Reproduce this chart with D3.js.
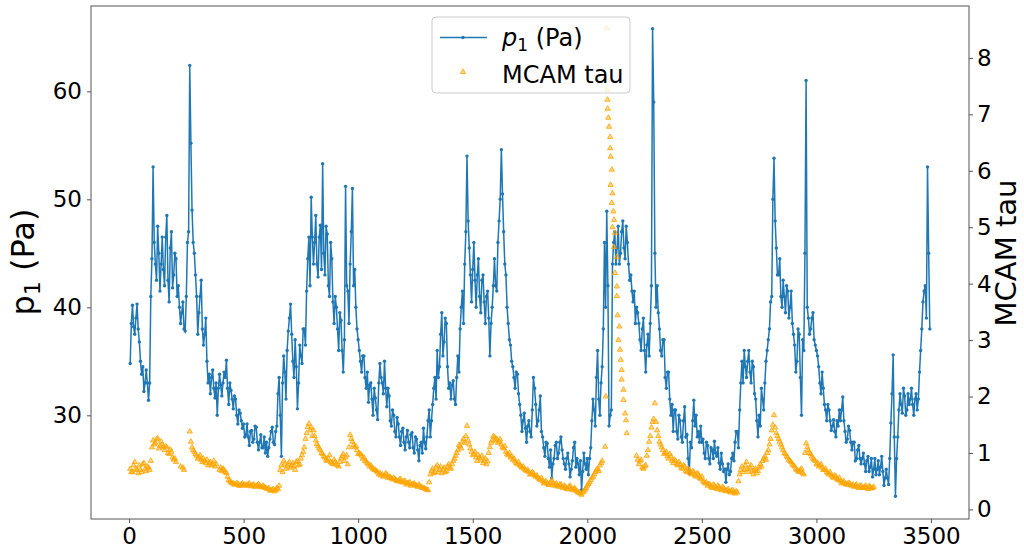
<!DOCTYPE html>
<html>
<head>
<meta charset="utf-8">
<script src="https://d3js.org/d3.v7.min.js"></script>
<style>
 body { margin: 0; background: #fff; }
 text { font-family: "DejaVu Sans", sans-serif; fill: #000; }
</style>
</head>
<body>
<script>
// p1 pressure (Pa): readings at sols 5, 15, 25 ... and the in-between readings at sols 10, 20, 30 ...
var p1FirstSol = 5, p1MidFirstSol = 10, solStep = 10;
var p1Values = [
 34.8, 40.2, 37.5, 40.3, 36.8, 33.8, 32.2, 34.2, 31.4, 41.0,
 53.0, 44.0, 47.5, 41.5, 46.5, 42.0, 48.5, 40.5, 47.0, 43.0,
 44.5, 42.0, 38.5, 40.5, 37.8, 46.0, 62.4, 49.0, 45.0, 41.0,
 39.5, 42.5, 36.5, 39.0, 33.0, 32.0, 34.2, 31.6, 30.0, 33.8,
 31.8, 34.0, 35.1, 31.0, 32.3, 30.6, 31.5, 29.2, 30.2, 28.8,
 28.0, 29.2, 27.2, 28.6, 27.8, 28.9, 26.8, 28.2, 27.0, 26.5,
 26.2, 27.8, 28.9, 27.3, 29.0, 33.5, 26.2, 35.5, 31.5, 37.8,
 40.3, 35.0, 37.0, 30.6, 36.5, 34.8, 38.0, 41.5, 46.5, 50.2,
 44.0, 48.5, 42.8, 47.6, 53.3, 43.0, 46.8, 41.0, 44.5, 38.5,
 40.0, 36.0, 38.8, 34.0, 51.2, 41.5, 44.0, 51.0, 43.5, 38.0,
 36.0, 34.0, 35.5, 32.5, 31.2, 33.0, 30.0, 31.6, 29.6, 34.8,
 33.0, 35.0, 30.8, 31.8, 29.0, 30.0, 28.0, 29.2, 27.2, 28.8,
 26.8, 28.6, 27.0, 28.4, 26.5, 27.8, 25.8, 27.5, 28.8, 26.9,
 29.5, 28.0, 31.0, 33.5, 36.0, 34.5, 39.5, 36.8, 38.5, 32.5,
 31.5, 33.2, 31.0, 35.5, 38.0, 41.5, 44.0, 54.0, 45.5, 40.5,
 46.0, 40.0, 44.5, 39.5, 43.0, 38.5, 41.5, 35.5, 40.0, 44.5,
 41.5, 48.0, 54.6, 47.0, 43.0, 38.5, 36.5, 34.5, 32.5, 33.8,
 31.0, 28.5, 30.2, 27.5, 29.5, 28.0, 33.5, 31.0, 29.5, 31.8,
 28.0, 26.2, 27.4, 25.2, 24.2, 26.0, 27.5, 26.5, 28.0, 26.0,
 25.0, 26.5, 24.3, 25.8, 27.5, 26.0, 24.5, 23.1, 26.5, 25.0,
 24.5, 27.0, 31.5, 29.0, 36.0, 30.0, 34.5, 46.0, 48.9, 29.0,
 30.5, 46.0, 44.0, 47.5, 45.0, 48.0, 44.5, 46.0, 42.5, 41.5,
 41.5, 40.0, 38.5, 36.0, 39.0, 34.0, 37.5, 38.5, 65.8, 45.0,
 42.0, 38.0, 35.5, 37.0, 32.5, 34.0, 30.0, 28.5, 30.5, 27.8,
 29.5, 27.5, 30.8, 28.2, 24.6, 27.0, 31.4, 30.0, 28.5, 29.0,
 27.8, 26.0, 27.2, 25.5, 26.8, 27.6, 26.2, 25.6, 26.5, 24.8,
 23.8, 25.5, 24.8, 26.5, 27.5, 28.5, 30.5, 35.0, 36.0, 33.5,
 36.0, 33.0, 34.5, 31.5, 28.0, 29.0, 31.5, 33.0, 36.0, 38.0,
 41.0, 53.8, 45.5, 43.0, 41.0, 42.5, 39.5, 41.5, 40.0, 38.5,
 36.5, 35.0, 37.5, 30.0, 36.0, 61.0, 39.0, 38.0, 39.5, 36.5,
 35.5, 33.0, 34.0, 31.0, 29.5, 30.5, 28.6, 29.6, 28.0, 29.0,
 29.5, 31.7, 28.5, 27.8, 28.6, 26.8, 27.5, 26.0, 27.2, 25.5,
 26.5, 24.8, 26.2, 25.2, 24.3, 26.0, 25.0, 24.5, 26.2, 23.5,
 25.0, 23.6, 29.3, 35.6, 22.5, 28.0, 32.0, 30.2, 31.8, 30.5,
 31.0, 32.5, 30.0, 32.0, 31.5, 36.0, 40.5, 42.0, 53.0, 38.0
];
var p1MidValues = [
 38.5, 38.2, 39.0, 38.0, 35.0, 34.5, 33.0, 33.0, 33.0, 44.5,
 46.0, 42.5, 45.0, 44.0, 43.5, 46.5, 42.5, 45.5, 41.8, 45.0,
 41.0, 40.0, 39.5, 38.0, 41.0, 47.0, 55.2, 46.0, 43.0, 37.5,
 41.0, 38.0, 37.5, 35.0, 33.8, 33.5, 32.5, 33.0, 32.5, 32.8,
 33.0, 33.5, 32.5, 33.0, 31.5, 31.8, 30.0, 30.5, 29.5, 29.2,
 28.2, 28.0, 28.5, 27.5, 29.0, 27.5, 27.5, 27.0, 28.0, 27.5,
 27.0, 28.5, 27.5, 28.5, 32.0, 30.0, 33.0, 34.0, 36.0, 39.0,
 37.5, 33.5, 34.5, 33.0, 35.5, 38.0, 36.5, 44.5, 42.0, 46.5,
 46.0, 44.0, 46.5, 43.5, 45.0, 47.5, 42.0, 46.0, 40.5, 41.0,
 38.0, 39.5, 36.0, 37.0, 42.0, 38.5, 47.0, 42.0, 40.0, 37.0,
 35.0, 35.5, 33.5, 34.0, 32.8, 31.5, 32.5, 30.5, 33.0, 33.5,
 32.0, 32.5, 32.5, 29.5, 30.5, 28.5, 29.8, 28.0, 28.5, 27.5,
 28.0, 27.5, 28.2, 27.0, 28.0, 26.8, 27.2, 26.5, 27.5, 28.0,
 30.5, 29.5, 32.5, 31.5, 33.5, 37.5, 35.5, 39.0, 34.5, 33.0,
 32.8, 31.5, 33.5, 34.0, 40.0, 38.5, 47.0, 48.0, 43.0, 43.5,
 42.5, 43.0, 41.0, 42.5, 40.5, 41.0, 39.0, 38.5, 42.0, 42.0,
 46.0, 50.0, 50.5, 44.0, 40.0, 37.0, 35.0, 33.5, 34.0, 32.0,
 30.0, 29.5, 28.8, 29.0, 28.5, 30.5, 32.5, 29.0, 30.5, 28.5,
 27.0, 27.5, 26.0, 26.8, 25.5, 27.2, 26.0, 27.5, 26.8, 25.5,
 26.0, 25.5, 25.0, 27.0, 25.2, 25.5, 25.8, 24.8, 25.5, 26.0,
 26.0, 29.5, 30.5, 33.5, 31.5, 33.0, 38.0, 40.0, 42.0, 30.0,
 44.0, 47.0, 45.5, 44.0, 47.0, 45.5, 47.5, 44.0, 43.0, 40.5,
 38.5, 39.5, 37.0, 38.0, 36.0, 36.5, 35.5, 42.0, 59.0, 40.0,
 39.5, 36.0, 37.0, 33.5, 34.0, 31.5, 31.0, 30.5, 28.5, 30.0,
 28.0, 29.5, 28.0, 26.0, 27.5, 29.5, 29.0, 28.0, 27.5, 27.5,
 26.5, 27.5, 26.0, 27.0, 26.0, 26.5, 27.0, 25.0, 25.5, 25.0,
 25.0, 24.5, 26.0, 25.8, 28.5, 27.0, 33.0, 33.0, 34.5, 35.0,
 34.0, 35.0, 32.0, 29.5, 30.0, 32.5, 30.5, 35.0, 37.0, 40.5,
 50.0, 48.0, 43.0, 44.5, 40.0, 41.0, 42.0, 39.0, 41.5, 37.5,
 34.0, 38.0, 33.5, 37.0, 45.0, 40.0, 37.5, 39.0, 37.0, 36.0,
 34.5, 32.0, 32.5, 30.5, 31.0, 29.5, 29.0, 28.5, 29.5, 30.5,
 30.5, 29.5, 27.5, 29.0, 27.5, 27.5, 25.8, 26.8, 26.0, 26.0,
 25.5, 25.8, 24.8, 26.0, 25.0, 24.5, 25.8, 25.2, 24.8, 24.2,
 24.2, 26.0, 32.0, 28.0, 26.0, 30.5, 31.0, 32.5, 30.0, 32.0,
 31.5, 31.0, 31.5, 30.5, 34.0, 38.0, 41.5, 39.0, 45.0
];

// MCAM tau on the same two sol grids (null = no image)
var tauValues = [
 0.72, 0.66, 0.84, 0.70, 0.78, 0.66, 0.82, 0.68, 0.74, 0.86,
 1.22, 1.18, 1.26, 1.12, 1.15, 1.05, 1.10, 0.98, 1.02, 0.88,
 0.84, null, 0.76, 0.74, null, null, 1.38, 1.10, 1.02, 0.95,
 0.92, 0.88, 0.90, 0.82, 0.78, 0.84, 0.80, 0.76, null, 0.70,
 0.68, 0.70, 0.64, 0.52, 0.48, 0.46, 0.44, 0.45, 0.42, 0.46,
 0.44, 0.43, 0.46, 0.42, 0.44, 0.41, 0.45, 0.40, 0.42, 0.38,
 0.36, 0.34, 0.35, 0.32, 0.38, 0.42, 0.78, 0.86, 0.72, 0.80,
 0.74, 0.82, 0.70, 0.86, 0.80, 0.96, 1.10, 1.35, 1.52, 1.45,
 1.40, 1.22, 1.12, 1.05, 0.98, 0.92, 0.86, 0.96, 0.82, 0.88,
 0.80, 0.76, 0.90, 0.98, 0.92, 0.80, 1.32, 1.20, 1.10, 1.05,
 1.00, 0.95, 0.92, 0.85, 0.80, 0.78, 0.72, 0.70, 0.66, 0.64,
 0.62, 0.60, 0.62, 0.58, 0.55, 0.56, 0.52, 0.50, 0.54, 0.48,
 0.50, 0.46, 0.48, 0.44, 0.46, 0.42, 0.44, 0.40, 0.38, 0.36,
 0.34, 0.62, 0.72, 0.66, 0.78, 0.70, 0.64, 0.74, 0.68, 0.80,
 0.72, 0.86, 0.95, 1.05, 1.12, 1.20, 1.18, 1.48, 1.15, 1.02,
 0.98, 0.92, 0.96, 0.88, 0.82, 0.90, 0.85, 1.10, 1.22, 1.28,
 1.25, 1.20, 1.15, 1.08, 1.02, 0.96, 0.92, 0.88, 0.85, 0.80,
 0.78, 0.74, 0.72, 0.68, 0.66, 0.62, 0.64, 0.58, 0.56, 0.52,
 0.50, 0.48, 0.46, 0.44, 0.52, 0.42, 0.46, 0.40, 0.44, 0.38,
 0.40, 0.36, 0.42, 0.34, 0.38, 0.32, 0.30, 0.26, 0.32, 0.38,
 0.45, 0.52, 0.58, 0.66, 0.72, 0.78, 0.86, null, null, null,
 null, null, null, null, null, null, null, null, null, null,
 null, 0.95, 0.80, 0.88, 0.72, 0.78, 1.05, 1.30, 1.55, 1.88,
 1.40, 1.20, 1.10, 0.98, 1.02, 0.90, 0.94, 0.82, 0.86, 0.78,
 0.80, 0.72, 0.76, 0.66, 0.70, 0.62, 0.66, 0.58, 0.62, 0.54,
 0.50, 0.46, 0.42, 0.44, 0.38, 0.42, 0.36, 0.40, 0.34, 0.38,
 0.32, 0.36, 0.30, 0.34, 0.28, 0.30, 0.62, 0.76, 0.70, 0.84,
 0.66, 0.78, 0.62, 0.72, 0.68, 0.80, 0.86, 0.94, 1.00, 1.15,
 1.40, 1.67, 1.35, 1.25, 1.15, 1.05, 0.98, 0.92, 0.86, 0.80,
 0.76, 0.70, 0.66, 0.72, 0.62, 1.17, 1.05, 0.98, 0.90, 0.86,
 0.82, 0.78, 0.74, 0.70, 0.66, 0.62, 0.60, 0.56, 0.58, 0.52,
 0.50, 0.48, 0.46, 0.44, 0.46, 0.42, 0.40, 0.44, 0.38, 0.42,
 0.38, 0.42, 0.36, 0.40, 0.38
];
var tauMidValues = [
 0.66, 0.78, 0.72, 0.64, 0.70, 0.80, 0.72, 0.76, 0.70, 1.10,
 1.15, 1.24, 1.08, 1.20, 1.10, 1.12, 1.00, 1.06, 0.92, 0.90,
 null, null, null, 0.70, null, null, 1.20, 1.05, 0.98, 0.90,
 0.96, 0.84, 0.86, 0.88, 0.82, 0.78, 0.86, 0.80, null, 0.74,
 0.72, 0.66, 0.58, 0.50, 0.46, 0.44, 0.47, 0.42, 0.44, 0.43,
 0.42, 0.45, 0.41, 0.43, 0.40, 0.43, 0.42, 0.39, 0.40, 0.37,
 0.38, 0.33, 0.36, 0.34, 0.36, 0.70, 0.66, 0.80, 0.76, 0.84,
 0.78, 0.76, 0.84, 0.78, 0.90, 1.02, 1.25, 1.46, 1.40, 1.30,
 1.30, 1.16, 1.08, 1.00, 0.94, 0.88, 0.90, 0.84, 0.80, 0.84,
 0.78, 0.84, 0.94, 0.86, 0.96, 1.10, 1.25, 1.14, 1.12, 0.98,
 0.98, 0.90, 0.86, 0.82, 0.76, 0.74, 0.70, 0.68, 0.62, 0.60,
 0.58, 0.64, 0.56, 0.57, 0.53, 0.54, 0.50, 0.53, 0.48, 0.50,
 0.44, 0.47, 0.42, 0.45, 0.43, 0.40, 0.41, 0.38, 0.37, 0.35,
 0.48, 0.68, 0.64, 0.74, 0.66, 0.76, 0.70, 0.66, 0.76, 0.74,
 0.80, 0.90, 1.00, 1.14, 1.08, 1.25, 1.30, 1.22, 1.08, 0.96,
 1.02, 0.86, 0.92, 0.95, 0.86, 0.80, 1.00, 1.18, 1.30, 1.22,
 1.18, 1.24, 1.10, 1.12, 0.98, 1.00, 0.94, 0.90, 0.82, 0.84,
 0.76, 0.76, 0.70, 0.70, 0.62, 0.66, 0.60, 0.60, 0.54, 0.56,
 0.46, 0.50, 0.43, 0.48, 0.46, 0.44, 0.42, 0.44, 0.40, 0.42,
 0.36, 0.40, 0.37, 0.36, 0.34, 0.30, 0.28, 0.30, 0.35, 0.42,
 0.48, 0.56, 0.62, 0.70, 0.68, 0.82, null, null, null, null,
 null, null, null, null, null, null, null, null, null, null,
 null, 0.88, 0.85, 0.74, 0.76, 0.95, 1.20, 1.45, 1.60, 1.55,
 1.30, 1.15, 1.05, 1.00, 0.94, 0.98, 0.86, 0.88, 0.80, 0.84,
 0.74, 0.78, 0.68, 0.72, 0.64, 0.68, 0.60, 0.64, 0.56, 0.58,
 0.48, 0.48, 0.45, 0.40, 0.44, 0.38, 0.42, 0.36, 0.40, 0.34,
 0.34, 0.32, 0.33, 0.30, 0.32, 0.50, 0.70, 0.66, 0.78, 0.72,
 0.74, 0.68, 0.70, 0.64, 0.74, 0.76, 0.90, 0.88, 1.05, 1.25,
 1.50, 1.45, 1.30, 1.20, 1.10, 1.00, 0.94, 0.88, 0.84, 0.78,
 0.72, 0.68, 0.70, 0.64, 1.00, 1.10, 1.00, 0.94, 0.88, 0.80,
 0.76, 0.80, 0.70, 0.72, 0.64, 0.66, 0.58, 0.60, 0.54, 0.56,
 0.46, 0.50, 0.44, 0.47, 0.43, 0.44, 0.42, 0.40, 0.42, 0.38,
 0.40, 0.38, 0.41, 0.37, 0.40
];

// the dust storm peak was imaged more often, keep its own sols
var stormSols = [2078, 2081, 2085, 2085, 2088, 2088, 2089, 2092, 2095, 2100, 2100, 2102, 2107, 2102, 2110, 2107, 2114, 2117, 2110,
 2121, 2117, 2129, 2121, 2129, 2129, 2132, 2140, 2136, 2143, 2146, 2150, 2150, 2158, 2158, 2165, 2169, 2172];
var stormTau = [1.11, 2.00, 8.53, 7.64, 7.43, 7.26, 7.10, 6.94, 6.78, 6.60, 6.40, 6.25, 6.02, 5.75, 5.60, 5.43, 5.28, 5.13, 5.00,
 4.90, 4.65, 4.47, 4.19, 3.95, 3.78, 3.44, 3.24, 3.00, 2.83, 2.65, 2.47, 2.30, 2.12, 1.94, 1.70, 1.58, 1.35];

var xTicks = [0, 500, 1000, 1500, 2000, 2500, 3000, 3500];
var p1Ticks = [30, 40, 50, 60];
var tauTicks = [0, 1, 2, 3, 4, 5, 6, 7, 8];

var width = 1024, height = 549;
var plotL = 91, plotR = 969, plotT = 6, plotB = 519;

var svg = d3.select("body").append("svg")
 .attr("width", width)
 .attr("height", height);

var x = d3.scaleLinear().domain([-166, 3666]).range([plotL, plotR]);
var yP = d3.scaleLinear().domain([20.4, 67.9]).range([plotB, plotT]);
var yT = d3.scaleLinear().domain([-0.17, 8.92]).range([plotB, plotT]);

function onGrid(values, first) {
 return values.map(function(v, i) { return { sol: first + i * solStep, v: v }; });
}
var p1 = onGrid(p1Values, p1FirstSol).concat(onGrid(p1MidValues, p1MidFirstSol))
 .sort(function(a, b) { return a.sol - b.sol; });
var tau = onGrid(tauValues, p1FirstSol).concat(onGrid(tauMidValues, p1MidFirstSol))
 .filter(function(d) { return d.v !== null; });
stormSols.forEach(function(s, i) { tau.push({ sol: s, v: stormTau[i] }); });

var blue = "#1f77b4", orange = "#ffa500";

// p1 line with small dots
svg.append("path")
 .datum(p1)
 .attr("fill", "none")
 .attr("stroke", blue)
 .attr("stroke-width", 1.5)
 .attr("d", d3.line().x(function(d) { return x(d.sol); }).y(function(d) { return yP(d.v); }));
svg.append("g").selectAll("circle")
 .data(p1)
 .enter().append("circle")
 .attr("cx", function(d) { return x(d.sol); })
 .attr("cy", function(d) { return yP(d.v); })
 .attr("r", 1.7)
 .attr("fill", blue);

// tau triangles on the twin axis
var tri = d3.symbol().type(d3.symbolTriangle).size(12);
svg.append("g").selectAll("path")
 .data(tau)
 .enter().append("path")
 .attr("d", tri)
 .attr("transform", function(d) { return "translate(" + x(d.sol) + "," + yT(d.v) + ")"; })
 .attr("fill", orange)
 .attr("fill-opacity", 0.45)
 .attr("stroke", orange)
 .attr("stroke-width", 0.8);

// frame
svg.append("rect")
 .attr("x", plotL).attr("y", plotT)
 .attr("width", plotR - plotL).attr("height", plotB - plotT)
 .attr("fill", "none")
 .attr("stroke", "#555")
 .attr("stroke-width", 1);

var fmt = d3.format("d");
var gx = svg.append("g")
 .attr("transform", "translate(0," + plotB + ")")
 .call(d3.axisBottom(x).tickValues(xTicks).tickFormat(fmt).tickSize(4).tickPadding(5));
var gl = svg.append("g")
 .attr("transform", "translate(" + plotL + ",0)")
 .call(d3.axisLeft(yP).tickValues(p1Ticks).tickFormat(fmt).tickSize(4).tickPadding(5));
var gr = svg.append("g")
 .attr("transform", "translate(" + plotR + ",0)")
 .call(d3.axisRight(yT).tickValues(tauTicks).tickFormat(fmt).tickSize(4).tickPadding(4));
[gx, gl, gr].forEach(function(g) {
 g.select(".domain").remove();
 g.selectAll("line").attr("stroke", "#555");
 g.selectAll("text").style("font-family", "DejaVu Sans").style("font-size", "23px");
});

svg.append("text")
 .attr("transform", "translate(34,262) rotate(-90)")
 .attr("text-anchor", "middle")
 .style("font-size", "32px")
 .call(function(t) {
  t.append("tspan").text("p");
  t.append("tspan").attr("dy", 6).style("font-size", "22px").text("1");
  t.append("tspan").attr("dy", -6).text(" (Pa)");
 });

svg.append("text")
 .attr("transform", "translate(1016,253) rotate(-90)")
 .attr("text-anchor", "middle")
 .style("font-size", "29px")
 .text("MCAM tau");

// legend
var lg = svg.append("g");
lg.append("rect")
 .attr("x", 432).attr("y", 17)
 .attr("width", 198).attr("height", 76)
 .attr("rx", 4)
 .attr("fill", "#fff").attr("fill-opacity", 0.8)
 .attr("stroke", "#ccc");
lg.append("line")
 .attr("x1", 440).attr("x2", 487).attr("y1", 37.5).attr("y2", 37.5)
 .attr("stroke", blue).attr("stroke-width", 1.5);
lg.append("circle").attr("cx", 463).attr("cy", 37.5).attr("r", 1.7).attr("fill", blue);
lg.append("path")
 .attr("d", tri)
 .attr("transform", "translate(463,72)")
 .attr("fill", orange).attr("fill-opacity", 0.45)
 .attr("stroke", orange).attr("stroke-width", 0.8);
lg.append("text")
 .attr("x", 502).attr("y", 46)
 .style("font-size", "24px")
 .call(function(t) {
  t.append("tspan").style("font-style", "italic").text("p");
  t.append("tspan").attr("dy", 5).style("font-size", "17px").text("1");
  t.append("tspan").attr("dy", -5).text(" (Pa)");
 });
lg.append("text")
 .attr("x", 502).attr("y", 83)
 .style("font-size", "24px")
 .text("MCAM tau");
</script>
</body>
</html>
